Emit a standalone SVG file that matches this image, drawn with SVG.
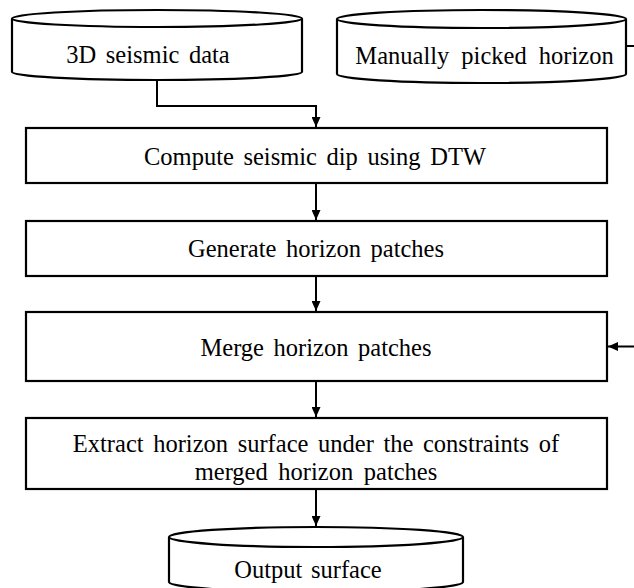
<svg xmlns="http://www.w3.org/2000/svg" width="634" height="588" viewBox="0 0 634 588">
<defs>
<marker id="ah" markerUnits="userSpaceOnUse" markerWidth="10" markerHeight="9" refX="10" refY="4.5" orient="auto">
<path d="M0,0 L10,4.5 L0,9 Z" fill="#000"/>
</marker>
<style>
.shape{fill:#fff;stroke:#000;stroke-width:2.2}
.conn{fill:none;stroke:#000;stroke-width:2;marker-end:url(#ah)}
text{font-family:"Liberation Serif","Times New Roman",serif;font-size:24.5px;fill:#000;text-anchor:middle}
</style>
</defs>
<rect width="634" height="588" fill="#fff"/>
<g id="connectors">
<path class="conn" d="M157,80 V106 H316 V127"/>
<path class="conn" d="M316,183 V220"/>
<path class="conn" d="M316,276 V311"/>
<path class="conn" d="M316,381 V417"/>
<path class="conn" d="M316,489 V526"/>
<path class="conn" d="M626,46 H650 V346.5 H608"/>
</g>
<g id="seismic-data">
<path class="shape" d="M12,18.5 V72 A145,8 0 0 0 302,72 V18.5"/>
<ellipse class="shape" cx="157" cy="18.5" rx="145" ry="8.5"/>
<text x="148" y="63" word-spacing="3.5">3D seismic data</text>
</g>
<g id="picked-horizon">
<path class="shape" d="M337,19 V74 A144.5,9 0 0 0 626,74 V19"/>
<ellipse class="shape" cx="481.5" cy="19" rx="144.5" ry="9"/>
<text x="484.5" y="64" word-spacing="6">Manually picked horizon</text>
</g>
<g id="compute-dip">
<rect class="shape" x="26" y="128" width="581" height="55"/>
<text x="315" y="165" word-spacing="3.5">Compute seismic dip using DTW</text>
</g>
<g id="generate-patches">
<rect class="shape" x="26" y="221" width="581" height="55"/>
<text x="316" y="257" word-spacing="3.5">Generate horizon patches</text>
</g>
<g id="merge-patches">
<rect class="shape" x="26" y="312" width="581" height="69"/>
<text x="316" y="356" word-spacing="3.5">Merge horizon patches</text>
</g>
<g id="extract-surface">
<rect class="shape" x="26" y="418" width="581" height="71"/>
<text x="316" y="452" word-spacing="3.5">Extract horizon surface under the constraints of</text>
<text x="316" y="480" word-spacing="4.5">merged horizon patches</text>
</g>
<g id="output-surface">
<path class="shape" d="M169,537 V582 A147,10 0 0 0 463,582 V537"/>
<ellipse class="shape" cx="316" cy="537" rx="147" ry="10"/>
<text x="308" y="578" word-spacing="2.5">Output surface</text>
</g>
</svg>
